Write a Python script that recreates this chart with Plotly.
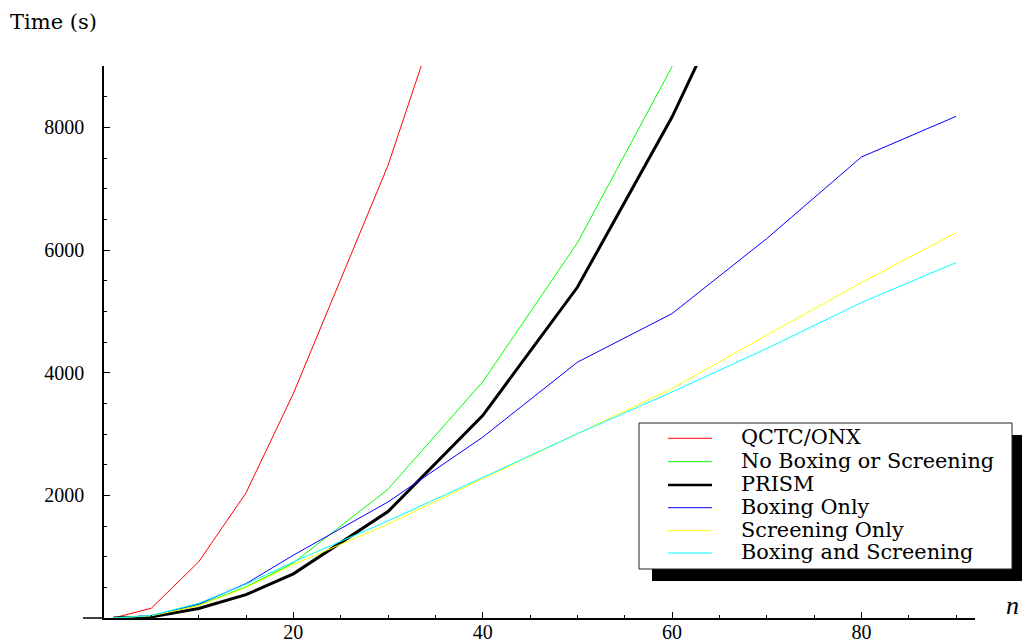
import plotly.graph_objects as go

# ---------------- data ----------------
n_vals = [1, 5, 10, 15, 20, 30, 40, 50, 60, 70, 80, 90]

series_names = ["QCTC/ONX", "No Boxing or Screening", "PRISM",
                "Boxing Only", "Screening Only", "Boxing and Screening"]
series_colors = ["#ff0000", "#00ff00", "#000000", "#0000ff", "#ffff00", "#00ffff"]
series_widths = [1, 1, 3, 1, 1, 1]

qctc = [0, 160, 915, 2040, 3660, 7380, 12000]
no_box_screen = [0, 35, 210, 507, 898, 2100, 3850, 6115, 8990, 12500]
prism = [0, 18, 155, 380, 720, 1735, 3300, 5392, 8168, 11430]
boxing_only = [0, 40, 225, 560, 1024, 1892, 2948, 4170, 4963, 6186, 7516, 8179]
screening_only = [0, 35, 200, 495, 872, 1529, 2270, 3000, 3741, 4610, 5468, 6283]
boxing_screening = [0, 40, 240, 551, 915, 1583, 2290, 3005, 3685, 4393, 5143, 5795]

series_values = [qctc, no_box_screen, prism, boxing_only, screening_only, boxing_screening]

x_major = [20, 40, 60, 80]
x_minor = [5, 10, 15, 25, 30, 35, 45, 50, 55, 65, 70, 75, 85, 90]
y_major = [2000, 4000, 6000, 8000]
y_minor = [500, 1000, 1500, 2500, 3000, 3500, 4500, 5000, 5500,
           6500, 7000, 7500, 8500]

# ---------------- geometry ----------------
W, H = 1022, 639
L_REF, R_REF, T_REF, B_REF = 104, 975, 66, 618   # plot area in pixels
L, T = L_REF, T_REF
R = W - R_REF
B = H - B_REF
PW, PH = R_REF - L_REF, B_REF - T_REF


def px(xp):
    return (xp - L_REF) / PW


def py(yp):
    return (B_REF - yp) / PH


fig = go.Figure()
for name, vals, col, lw in zip(series_names, series_values, series_colors, series_widths):
    fig.add_trace(go.Scatter(
        x=n_vals[:len(vals)], y=vals, mode="lines", name=name,
        line=dict(color=col, width=lw), showlegend=False, hoverinfo="skip",
    ))

tick_font = dict(family="Liberation Serif", size=20, color="black")

fig.update_layout(
    width=W, height=H,
    margin=dict(l=L, r=R, t=T, b=B, pad=0),
    paper_bgcolor="white", plot_bgcolor="white",
    xaxis=dict(range=[0, 92], tickmode="array", tickvals=x_major,
               ticktext=[str(v) for v in x_major],
               ticks="inside", ticklen=6, tickwidth=1, tickcolor="black",
               minor=dict(tickmode="array", tickvals=x_minor, ticks="inside",
                          ticklen=3, tickwidth=1, tickcolor="black"),
               showline=True, linecolor="black", linewidth=1.5,
               showgrid=False, zeroline=False, tickfont=tick_font,
               automargin=False, ticklabelstandoff=-5),
    yaxis=dict(range=[0, 9000], tickmode="array", tickvals=y_major,
               ticktext=[str(v) for v in y_major],
               ticks="inside", ticklen=6, tickwidth=1, tickcolor="black",
               minor=dict(tickmode="array", tickvals=y_minor, ticks="inside",
                          ticklen=3, tickwidth=1, tickcolor="black"),
               showline=True, linecolor="black", linewidth=1.5,
               showgrid=False, zeroline=False, tickfont=tick_font,
               automargin=False, ticklabelstandoff=14),
)

shapes = []
annotations = []

# x-axis extension to the left of the y-axis
shapes.append(dict(type="line", xref="paper", yref="paper",
                   x0=px(83), x1=0, y0=0, y1=0,
                   line=dict(color="black", width=1.5)))

# legend box with shadow
bx0, by0, bx1, by1 = 639, 423, 1012, 569
shapes.append(dict(type="rect", xref="paper", yref="paper", layer="above",
                   x0=px(bx0 + 13), x1=px(bx1 + 14), y0=py(by1 + 12), y1=py(by0 + 12),
                   fillcolor="black", line=dict(width=0)))
shapes.append(dict(type="rect", xref="paper", yref="paper", layer="above",
                   x0=px(bx0), x1=px(bx1), y0=py(by1), y1=py(by0),
                   fillcolor="white", line=dict(color="#222222", width=1)))

row_y = [438.3, 461.7, 485, 507.7, 530.7, 553]
for name, col, lw, ry in zip(series_names, series_colors, series_widths, row_y):
    shapes.append(dict(type="line", xref="paper", yref="paper", layer="above",
                       x0=px(668), x1=px(712), y0=py(ry), y1=py(ry),
                       line=dict(color=col, width=2.5 if lw > 1 else 1)))
    annotations.append(dict(text=name, xref="paper", yref="paper",
                            x=px(739), y=py(ry - 1), xanchor="left", yanchor="middle",
                            showarrow=False,
                            font=dict(family="DejaVu Serif", size=20.8, color="black")))

annotations.append(dict(text="Time (s)", xref="paper", yref="paper",
                        x=px(8), y=py(22), xanchor="left", yanchor="middle",
                        showarrow=False,
                        font=dict(family="DejaVu Serif", size=21, color="black")))
annotations.append(dict(text="<i>n</i>", xref="paper", yref="paper",
                        x=px(1012), y=py(605), xanchor="center", yanchor="middle",
                        showarrow=False,
                        font=dict(family="Liberation Serif", size=26, color="black")))

fig.update_layout(shapes=shapes, annotations=annotations)

# remove the default 8px page margin so the figure fills the window exactly
fig.write_html("out.html",
               config={"displayModeBar": False},
               post_script="document.body.style.margin='0';"
                           "document.body.style.overflow='hidden';")
